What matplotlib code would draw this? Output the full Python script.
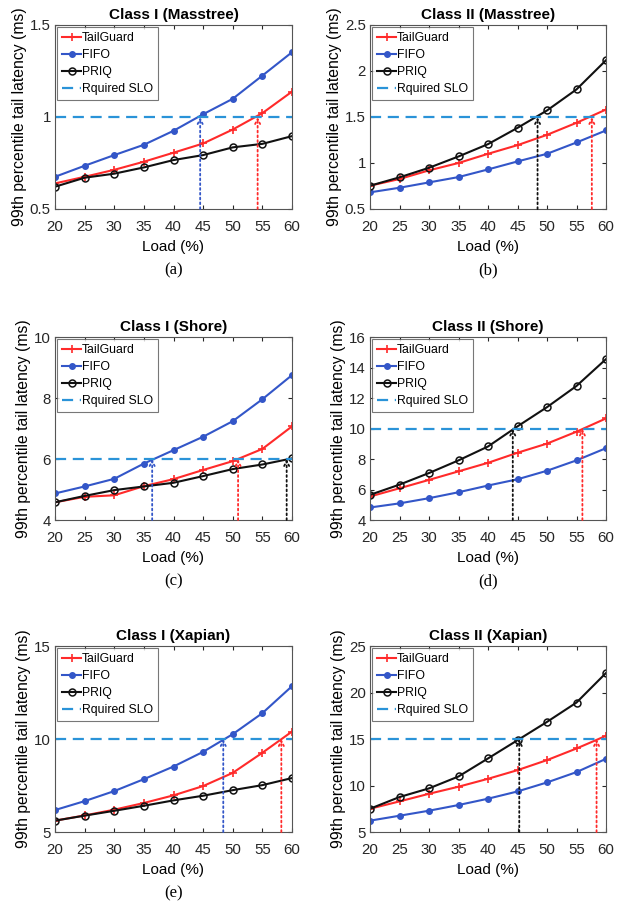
import matplotlib
matplotlib.use("Agg")
import matplotlib.pyplot as plt

plt.rcParams['font.family'] = ['Liberation Sans', 'DejaVu Sans']

load = [20, 25, 30, 35, 40, 45, 50, 55, 60]
xticks = [20, 25, 30, 35, 40, 45, 50, 55, 60]

titles = ["Class I (Masstree)", "Class II (Masstree)", "Class I (Shore)",
          "Class II (Shore)", "Class I (Xapian)", "Class II (Xapian)"]
captions = ["(a)", "(b)", "(c)", "(d)", "(e)", ""]

tailguard = [
    [0.639, 0.675, 0.713, 0.757, 0.806, 0.856, 0.932, 1.021, 1.138],
    [0.753, 0.826, 0.920, 1.000, 1.100, 1.194, 1.306, 1.437, 1.581],
    [4.58, 4.76, 4.81, 5.11, 5.34, 5.64, 5.93, 6.33, 7.07],
    [5.54, 6.08, 6.63, 7.19, 7.75, 8.41, 9.01, 9.79, 10.66],
    [5.61, 5.89, 6.20, 6.56, 6.97, 7.47, 8.18, 9.26, 10.40],
    [7.50, 8.29, 9.11, 9.87, 10.72, 11.65, 12.73, 13.98, 15.34],
]
fifo = [
    [0.675, 0.735, 0.793, 0.849, 0.925, 1.015, 1.099, 1.225, 1.352],
    [0.681, 0.731, 0.789, 0.847, 0.930, 1.017, 1.100, 1.223, 1.354],
    [4.87, 5.10, 5.35, 5.85, 6.29, 6.73, 7.24, 7.96, 8.75],
    [4.82, 5.09, 5.43, 5.82, 6.26, 6.67, 7.23, 7.91, 8.71],
    [6.18, 6.66, 7.20, 7.84, 8.52, 9.31, 10.26, 11.39, 12.84],
    [6.22, 6.75, 7.29, 7.90, 8.58, 9.36, 10.33, 11.44, 12.87],
]
priq = [
    [0.621, 0.670, 0.692, 0.726, 0.766, 0.793, 0.835, 0.854, 0.896],
    [0.753, 0.844, 0.948, 1.071, 1.205, 1.382, 1.571, 1.800, 2.117],
    [4.58, 4.79, 4.98, 5.10, 5.22, 5.44, 5.67, 5.82, 6.02],
    [5.65, 6.32, 7.08, 7.91, 8.82, 10.14, 11.40, 12.79, 14.55],
    [5.61, 5.88, 6.14, 6.41, 6.70, 6.95, 7.25, 7.52, 7.90],
    [7.50, 8.76, 9.69, 10.97, 12.91, 14.87, 16.84, 18.92, 22.10],
]
slo = [1.0, 1.5, 6, 10, 10, 15]
ylims = [(0.5, 1.5), (0.5, 2.5), (4, 10), (4, 16), (5, 15), (5, 25)]
yticks = [[0.5, 1, 1.5], [0.5, 1, 1.5, 2, 2.5], [4, 6, 8, 10],
          [4, 6, 8, 10, 12, 14, 16], [5, 10, 15], [5, 10, 15, 20, 25]]
ytick_labels = [["0.5", "1", "1.5"], ["0.5", "1", "1.5", "2", "2.5"],
                ["4", "6", "8", "10"], ["4", "6", "8", "10", "12", "14", "16"],
                ["5", "10", "15"], ["5", "10", "15", "20", "25"]]
# arrows: (x position, colour key)
arrows = [
    [(44.5, 'fifo'), (54.2, 'tg')],
    [(48.4, 'priq'), (57.6, 'tg')],
    [(36.4, 'fifo'), (50.9, 'tg'), (59.1, 'priq')],
    [(44.2, 'priq'), (56.0, 'tg')],
    [(48.4, 'fifo'), (58.2, 'tg')],
    [(45.3, 'priq'), (58.4, 'tg')],
]

C_TG = '#ff2a2a'
C_FIFO = '#3356c8'
C_PRIQ = '#111111'
C_SLO = '#2a93d8'
C_AX = '#555555'
colmap = {'tg': C_TG, 'fifo': C_FIFO, 'priq': C_PRIQ}

W, H = 628, 913
fig = plt.figure(figsize=(W / 100, H / 100), dpi=100)

lefts = [55, 370]
tops_bottoms = [(25, 209), (337, 520), (646, 832)]
widths = [237, 236]

for i in range(6):
    r, c = divmod(i, 2)
    top, bot = tops_bottoms[r]
    ax = fig.add_axes([lefts[c] / W, 1 - bot / H, widths[c] / W, (bot - top) / H])
    ax.plot(load, tailguard[i], color=C_TG, marker='+', ms=6, mew=1.2, lw=1.5, label='TailGuard')
    ax.plot(load, fifo[i], color=C_FIFO, marker='.', ms=8, lw=1.5, label='FIFO')
    ax.plot(load, priq[i], color=C_PRIQ, marker='o', ms=5, mfc='none', mew=1.1, lw=1.5, label='PRIQ')
    ax.axhline(slo[i], color=C_SLO, ls=(0, (5, 3)), lw=1.6, label='Rquired SLO')
    y0 = ylims[i][0]
    for xa, key in arrows[i]:
        col = colmap[key]
        ax.annotate('', xy=(xa, slo[i]), xytext=(xa, y0),
                    arrowprops=dict(arrowstyle='->', color=col, lw=1.3, ls=':',
                                    shrinkA=0, shrinkB=0, mutation_scale=9))
    ax.set_xlim(20, 60)
    ax.set_ylim(*ylims[i])
    ax.set_xticks(xticks)
    ax.set_xticklabels([str(v) for v in xticks])
    ax.set_yticks(yticks[i])
    ax.set_yticklabels(ytick_labels[i])
    ax.tick_params(direction='in', top=True, right=True, labelsize=10.8, length=3,
                   colors='#262626')
    ax.tick_params(axis='x', pad=8)
    ax.tick_params(axis='y', pad=3)
    for s in ax.spines.values():
        s.set_color(C_AX)
        s.set_linewidth(0.8)
    ax.set_title(titles[i], fontsize=11, fontweight='bold', pad=4)
    ax.set_xlabel('Load (%)', fontsize=11, labelpad=4)
    ax.set_ylabel('99th percentile tail latency (ms)', fontsize=11.3, labelpad=2)
    leg = ax.legend(loc='upper left', fontsize=8.8, frameon=True, fancybox=False,
                    handlelength=1.5, handletextpad=0.1, borderpad=0.4,
                    labelspacing=0.4, borderaxespad=0.2)
    leg.get_frame().set_edgecolor(C_AX)
    leg.get_frame().set_linewidth(0.8)
    if captions[i]:
        cx = (lefts[c] + widths[c] / 2) / W
        fig.text(cx, 1 - (bot + 61) / H, captions[i], ha='center', va='center',
                 fontsize=12, family=['Liberation Serif', 'DejaVu Serif'])

fig.savefig('out.png', dpi=100)
